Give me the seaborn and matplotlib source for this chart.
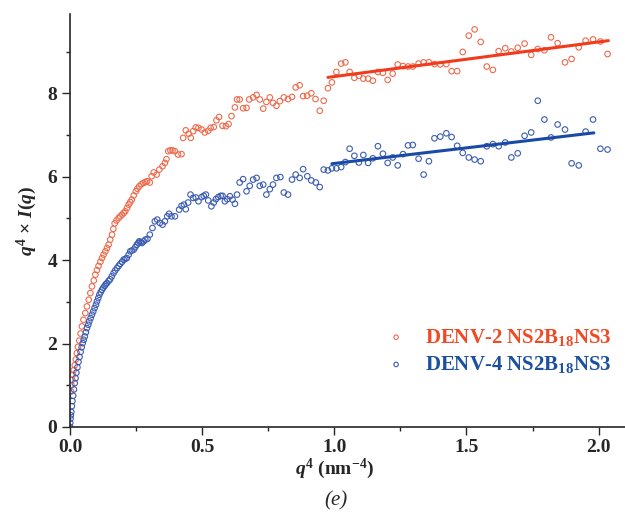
import numpy as np
import pandas as pd
import matplotlib
matplotlib.use('Agg')
import matplotlib.pyplot as plt
from matplotlib.ticker import MultipleLocator
import seaborn as sns

denv2_q4 = [0.004, 0.006, 0.008, 0.011, 0.014, 0.018, 0.022, 0.026, 0.030, 0.035,
            0.040, 0.045, 0.051, 0.058, 0.064, 0.071, 0.077, 0.083, 0.090, 0.096,
            0.102, 0.108, 0.115, 0.121, 0.127, 0.134, 0.140, 0.146, 0.152, 0.159,
            0.164, 0.169, 0.176, 0.184, 0.190, 0.197, 0.203, 0.209, 0.216, 0.222,
            0.228, 0.234, 0.241, 0.249, 0.255, 0.262, 0.270, 0.278, 0.285, 0.292,
            0.302, 0.309, 0.317, 0.328, 0.338, 0.350, 0.359, 0.365, 0.372, 0.380,
            0.388, 0.397, 0.409, 0.422, 0.428, 0.438, 0.449, 0.457, 0.466, 0.476,
            0.486, 0.498, 0.510, 0.523, 0.532, 0.544, 0.554, 0.564, 0.577, 0.590,
            0.600, 0.611, 0.624, 0.632, 0.642, 0.655, 0.668, 0.678, 0.693, 0.706,
            0.718, 0.731, 0.743, 0.756, 0.768, 0.781, 0.794, 0.809, 0.825, 0.840,
            0.854, 0.869, 0.882, 0.897, 0.913, 0.929, 0.945, 0.960, 0.976, 0.991,
            1.008, 1.026, 1.042, 1.058, 1.076, 1.093, 1.110, 1.128, 1.146, 1.165,
            1.184, 1.202, 1.221, 1.240, 1.260, 1.279, 1.297, 1.319, 1.338, 1.358,
            1.379, 1.401, 1.424, 1.444, 1.465, 1.486, 1.509, 1.531, 1.554, 1.577,
            1.600, 1.622, 1.647, 1.670, 1.694, 1.720, 1.745, 1.770, 1.795, 1.820,
            1.845, 1.873, 1.898, 1.925, 1.951, 1.979, 2.007, 2.034]
denv2_I = [0.85, 1.00, 1.13, 1.25, 1.36, 1.48, 1.62, 1.77, 1.92, 2.07,
           2.24, 2.41, 2.57, 2.73, 2.89, 3.05, 3.21, 3.37, 3.51, 3.65,
           3.76, 3.86, 3.96, 4.05, 4.13, 4.21, 4.29, 4.37, 4.49, 4.61,
           4.75, 4.88, 4.95, 5.01, 5.05, 5.09, 5.13, 5.17, 5.25, 5.33,
           5.39, 5.45, 5.55, 5.65, 5.71, 5.77, 5.82, 5.85, 5.87, 5.89,
           5.86, 6.01, 6.10, 6.05, 6.17, 6.25, 6.33, 6.42, 6.61, 6.63,
           6.63, 6.61, 6.53, 6.54, 6.93, 7.11, 7.03, 6.93, 7.09, 7.18,
           7.17, 7.13, 7.06, 7.10, 7.17, 7.19, 7.35, 7.43, 7.22, 7.21,
           7.26, 7.45, 7.66, 7.85, 7.85, 7.64, 7.65, 7.85, 7.90, 7.96,
           7.85, 7.63, 7.79, 7.90, 7.77, 7.70, 7.81, 7.90, 7.86, 7.91,
           8.14, 8.19, 7.93, 7.94, 8.00, 7.86, 7.58, 7.82, 8.12, 8.26,
           8.51, 8.71, 8.74, 8.51, 8.37, 8.42, 8.35, 8.35, 8.30, 8.51,
           8.49, 8.32, 8.47, 8.69, 8.65, 8.64, 8.64, 8.71, 8.74, 8.74,
           8.70, 8.69, 8.70, 8.53, 8.53, 8.99, 9.38, 9.53, 9.23, 8.64,
           8.56, 9.01, 9.08, 9.00, 9.09, 9.19, 8.92, 9.06, 9.03, 9.34,
           9.20, 8.74, 8.82, 9.10, 9.26, 9.29, 9.24, 8.94]

denv4_q4 = [0.000, 0.001, 0.002, 0.003, 0.005, 0.007, 0.009, 0.012, 0.015, 0.018,
            0.021, 0.024, 0.028, 0.032, 0.036, 0.040, 0.044, 0.048, 0.052, 0.056,
            0.060, 0.064, 0.069, 0.073, 0.078, 0.083, 0.088, 0.093, 0.098, 0.102,
            0.107, 0.111, 0.116, 0.121, 0.126, 0.131, 0.135, 0.140, 0.146, 0.152,
            0.158, 0.165, 0.171, 0.178, 0.184, 0.190, 0.197, 0.203, 0.209, 0.215,
            0.222, 0.228, 0.234, 0.241, 0.247, 0.253, 0.258, 0.262, 0.267, 0.272,
            0.279, 0.285, 0.293,
            0.302, 0.312, 0.321, 0.330, 0.340, 0.350, 0.359, 0.368, 0.375, 0.384,
            0.397, 0.413, 0.422, 0.431, 0.438, 0.447, 0.456, 0.466, 0.476, 0.486,
            0.498, 0.506, 0.514, 0.523, 0.535, 0.544, 0.552, 0.561, 0.570, 0.577,
            0.586, 0.595, 0.605, 0.615, 0.624, 0.632, 0.642, 0.655, 0.668, 0.680,
            0.693, 0.706, 0.718, 0.731, 0.743, 0.756, 0.768, 0.781, 0.796, 0.809,
            0.825, 0.840, 0.854, 0.869, 0.882, 0.898, 0.913, 0.930, 0.945, 0.960,
            0.976, 0.991, 1.008, 1.026, 1.042, 1.058, 1.076, 1.093, 1.110, 1.128,
            1.146, 1.165, 1.184, 1.202, 1.221, 1.240, 1.260, 1.279, 1.297, 1.319,
            1.338, 1.358, 1.379, 1.401, 1.424, 1.444, 1.465, 1.486, 1.509, 1.531,
            1.554, 1.577, 1.600, 1.622, 1.647, 1.670, 1.694, 1.720, 1.745, 1.770,
            1.795, 1.820, 1.845, 1.873, 1.898, 1.925, 1.951, 1.979, 2.007, 2.034]
denv4_I = [0.00, 0.10, 0.20, 0.28, 0.36, 0.50, 0.62, 0.75, 0.90, 1.05,
           1.17, 1.30, 1.43, 1.56, 1.68, 1.80, 1.91, 2.01, 2.09, 2.17,
           2.27, 2.37, 2.45, 2.53, 2.61, 2.69, 2.77, 2.85, 2.93, 3.01,
           3.09, 3.17, 3.23, 3.29, 3.34, 3.38, 3.42, 3.45, 3.50, 3.54,
           3.61, 3.69, 3.75, 3.81, 3.86, 3.91, 3.96, 4.01, 4.03, 4.05,
           4.13, 4.21, 4.23, 4.25, 4.31, 4.37, 4.41, 4.45, 4.43, 4.41,
           4.45, 4.49, 4.51,
           4.61, 4.77, 4.93, 4.97, 4.89, 4.85, 4.93, 5.05, 5.11, 5.05,
           5.05, 5.21, 5.30, 5.33, 5.22, 5.38, 5.57, 5.49, 5.50, 5.41,
           5.51, 5.54, 5.57, 5.43, 5.29, 5.38, 5.46, 5.51, 5.54, 5.54,
           5.41, 5.46, 5.53, 5.45, 5.35, 5.57, 5.86, 5.94, 5.65, 5.78,
           5.93, 5.97, 5.78, 5.81, 5.57, 5.70, 5.81, 5.97, 5.99, 5.62,
           5.57, 5.93, 6.05, 5.97, 6.18, 6.01, 5.91, 5.86, 5.75, 6.17,
           6.15, 6.20, 6.20, 6.23, 6.35, 6.67, 6.50, 6.34, 6.52, 6.33,
           6.44, 6.73, 6.55, 6.33, 6.46, 6.27, 6.54, 6.75, 6.76, 6.43,
           6.05, 6.37, 6.92, 6.96, 7.04, 6.95, 6.74, 6.57, 6.46, 6.41,
           6.37, 6.73, 6.78, 6.73, 6.82, 6.46, 6.56, 6.98, 7.06, 7.82,
           7.37, 6.94, 7.25, 7.13, 6.32, 6.27, 7.08, 7.37, 6.67, 6.65]

# linear fits (end points)
denv2_fit_x = [0.976, 2.037]
denv2_fit_y = [8.38, 9.26]
denv4_fit_x = [0.991, 1.982]
denv4_fit_y = [6.31, 7.05]

labels = ['DENV-2 NS2B$_{18}$NS3', 'DENV-4 NS2B$_{18}$NS3']

sns.set_style('ticks')
plt.rcParams['font.family'] = ['Liberation Serif', 'DejaVu Serif']
plt.rcParams['font.weight'] = 'bold'
plt.rcParams['mathtext.fontset'] = 'custom'
plt.rcParams['mathtext.rm'] = 'Liberation Serif:bold'
plt.rcParams['mathtext.it'] = 'Liberation Serif:italic:bold'
plt.rcParams['mathtext.bf'] = 'Liberation Serif:bold'

red_pt, red_line, red_txt = '#ee6a4c', '#f03c1c', '#ef4a23'
blue_pt, blue_line, blue_txt = '#3c5cb2', '#1a4aa8', '#1d4f9f'

fig = plt.figure(figsize=(6.25, 5.23), dpi=100)
ax = fig.add_axes([0.112, 0.1836, 0.888, 0.7897])

sns.scatterplot(x=denv2_q4, y=denv2_I, ax=ax, marker='o', s=16, facecolor='none',
                edgecolor=red_pt, linewidth=0.8, label=labels[0])
sns.scatterplot(x=denv4_q4, y=denv4_I, ax=ax, marker='o', s=16, facecolor='none',
                edgecolor=blue_pt, linewidth=0.8, label=labels[1])
sns.lineplot(x=denv2_fit_x, y=denv2_fit_y, ax=ax, color=red_line, linewidth=2.2, legend=False)
sns.lineplot(x=denv4_fit_x, y=denv4_fit_y, ax=ax, color=blue_line, linewidth=2.2, legend=False)

ax.set_xlim(0, 2.1)
ax.set_ylim(0, 9.9)
ax.xaxis.set_major_locator(MultipleLocator(0.5))
ax.xaxis.set_minor_locator(MultipleLocator(0.25))
ax.yaxis.set_major_locator(MultipleLocator(2))
ax.yaxis.set_minor_locator(MultipleLocator(1))
ax.tick_params(which='major', direction='out', length=5.5, width=1, labelsize=14)
ax.tick_params(which='minor', direction='out', length=3, width=1)
for s in ['top', 'right']:
    ax.spines[s].set_visible(False)
for s in ['left', 'bottom']:
    ax.spines[s].set_linewidth(1.2)

ax.set_xlabel(r'$q^4$ (nm$^{-4}$)', fontsize=14, fontweight='bold')
ax.xaxis.set_label_coords(0.476, -0.073)
ax.set_ylabel(r'$q^4$ × $I(q)$', fontsize=14, fontweight='bold', labelpad=6)
fig.text(0.538, 0.042, '(e)', ha='center', va='center', fontsize=15,
         fontstyle='italic', fontweight='normal')

leg = ax.legend(loc='upper left', bbox_to_anchor=(0.535, 0.263), frameon=False,
                fontsize=15, handletextpad=0.4, labelspacing=0.3, borderaxespad=0,
                markerscale=0.8)
for t, c in zip(leg.get_texts(), [red_txt, blue_txt]):
    t.set_color(c)

fig.savefig('out.png', dpi=100)
